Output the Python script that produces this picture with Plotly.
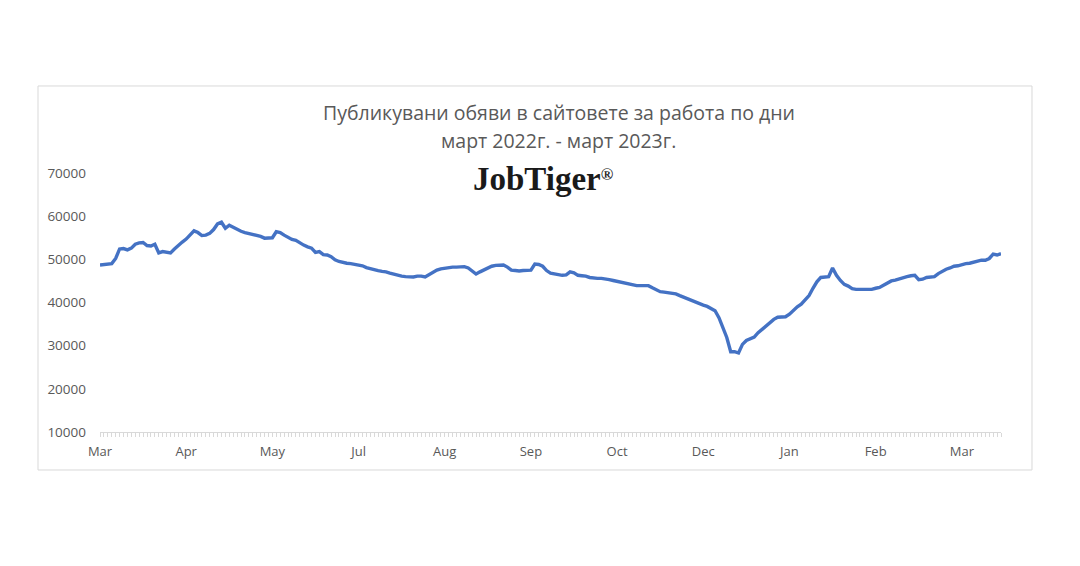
import plotly.graph_objects as go

# daily postings, one value per working day (Mar 2022 - Mar 2023)
postings = [
    48700, 48800, 48900, 49000, 50200, 52400, 52500, 52200, 52600, 53500,
    53800, 53900, 53200, 53100, 53500, 51500, 51800, 51700, 51500, 52400,
    53300, 54000, 54700, 55700, 56600, 56200, 55500, 55600, 56000, 56900,
    58200, 58600, 57200, 57900, 57400, 57000, 56500, 56200, 56000, 55800,
    55600, 55300, 54900, 54900, 55000, 56400, 56200, 55600, 55000, 54600,
    54400, 53800, 53300, 52900, 52600, 51600, 51800, 51100, 51000, 50600,
    49900, 49500, 49200, 49100, 49000, 48800, 48700, 48500, 48100, 47800,
    47600, 47400, 47200, 47100, 46800, 46500, 46300, 46100, 46000, 45900,
    45900, 46100, 46100, 45900, 46500, 47100, 47500, 47800, 48000, 48150,
    48200, 48200, 48200, 48300, 48000, 47300, 46600, 47100, 47600, 48100,
    48400, 48600, 48700, 48700, 48200, 47500, 47400, 47300, 47400, 47400,
    47500, 48900, 48800, 48400, 47400, 46800, 46600, 46500, 46300, 46400,
    47100, 46900, 46300, 46200, 46100, 45800, 45600, 45600, 45600, 45500,
    45300, 45100, 44900, 44700, 44500, 44300, 44000, 43900, 43900, 43900,
    43900, 43400, 43000, 42500, 42400, 42300, 42100, 42000, 41600, 41200,
    40800, 40400, 40100, 39700, 39400, 39100, 38700, 38100, 36500, 34300,
    31900, 28600, 28600, 28300, 30300, 31200, 31500, 32000, 33000, 33800,
    34600, 35300, 36100, 36600, 36700, 36700, 37300, 38200, 39000, 39600,
    40500, 41600, 43300, 44800, 45800, 45900, 46000, 48000, 46300, 45100,
    44200, 43800, 43200, 43050, 43050, 43050, 43050, 43050, 43300, 43500,
    44000, 44600, 45000, 45200, 45500, 45900, 46000, 46200, 46300, 45300,
    45400, 45800, 45900, 46000, 46700, 47300, 47700, 48000, 48400, 48500,
    48800, 49000, 49100, 49400, 49600, 49800, 49800, 50200, 51200, 51000,
    51300,
]
month_labels = ["Mar", "Apr", "May", "Jul", "Aug", "Sep", "Oct", "Dec", "Jan", "Feb", "Mar"]
label_step = 22

days = list(range(len(postings)))
tick_pos = [i * label_step for i in range(len(month_labels))]

grey = "#595959"
axis_col = "#d9d9d9"

fig = go.Figure(go.Scatter(
    x=days,
    y=postings,
    mode="lines",
    line=dict(color="#4472c4", width=3.4),
    hoverinfo="skip",
))

# chart frame
fig.add_shape(
    type="rect", xref="paper", yref="paper",
    x0=-0.0688, x1=1.0344, y0=-0.1467, y1=1.336,
    line=dict(color=axis_col, width=1), fillcolor="rgba(0,0,0,0)",
)

fig.add_annotation(
    text="Публикувани обяви в сайтовете за работа по дни",
    xref="paper", yref="paper", x=0.5094, y=1.2317, yanchor="middle", showarrow=False,
    font=dict(family="Open Sans", size=19.5, color=grey),
)
fig.add_annotation(
    text="март 2022г. - март 2023г.",
    xref="paper", yref="paper", x=0.5094, y=1.1236, yanchor="middle", showarrow=False,
    font=dict(family="Open Sans", size=19.5, color=grey),
)
fig.add_annotation(
    text="<b>JobTiger</b><span style='font-size:24px'><sup><b>®</b></sup></span>",
    xref="paper", yref="paper", x=0.4925, y=0.9768, yanchor="middle", showarrow=False,
    font=dict(family="Liberation Serif", size=33, color="#1a1a1a"),
)

fig.update_layout(
    width=1080,
    height=566,
    paper_bgcolor="white",
    plot_bgcolor="white",
    margin=dict(l=92, r=87, t=165, b=142),
    showlegend=False,
    font=dict(family="Open Sans", size=13, color=grey),
    xaxis=dict(
        range=[0, len(postings) - 1],
        tickmode="array",
        tickvals=tick_pos,
        ticktext=month_labels,
        showgrid=False,
        zeroline=False,
        showline=True,
        linecolor=axis_col,
        ticks="outside",
        ticklen=4,
        tickcolor=axis_col,
        minor=dict(dtick=1, tick0=0, ticks="outside", ticklen=4, tickcolor=axis_col),
        ticklabelstandoff=3,
        tickfont=dict(size=13, color=grey),
    ),
    yaxis=dict(
        range=[10000, 70000],
        tickvals=[10000, 20000, 30000, 40000, 50000, 60000, 70000],
        tickformat="d",
        showgrid=False,
        zeroline=False,
        showline=False,
        ticklabelstandoff=13,
        tickfont=dict(size=13.5, color=grey),
    ),
)

fig.write_html("out.html")
